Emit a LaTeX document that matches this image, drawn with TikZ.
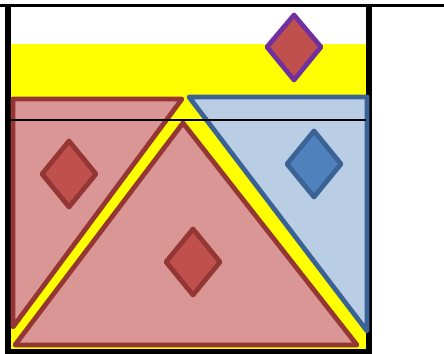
\documentclass[tikz,border=0pt]{standalone}
\usepackage{tikz}
\definecolor{cyellow}{HTML}{FFFF00}
\definecolor{credfill}{HTML}{D99694}
\definecolor{credline}{HTML}{943634}
\definecolor{cgemred}{HTML}{C0504D}
\definecolor{cbluefill}{HTML}{B9CDE5}
\definecolor{cblueline}{HTML}{3A6294}
\definecolor{cgemblue}{HTML}{4F81BD}
\definecolor{cpurple}{HTML}{7030A0}

\begin{document}
\begin{tikzpicture}[x=0.02cm, y=-0.02cm,
  wall/.style={line width=3.3pt},
  redpart/.style={draw=credline, fill=credfill, line width=2.7pt, line join=round},
  bluepart/.style={draw=cblueline, fill=cbluefill, line width=2.7pt, line join=round},
  redgem/.style={draw=credline, fill=cgemred, line width=2.7pt, line join=round},
  bluegem/.style={draw=cblueline, fill=cgemblue, line width=2.7pt, line join=round},
  topgem/.style={draw=cpurple, fill=cgemred, line width=2.7pt, line join=round}]
  \useasboundingbox (0,0) rectangle (444,354);
  % liquid
  \fill[cyellow] (11,44) rectangle (366,350);
  % container
  \draw[wall] (8,5) -- (8,352) -- (369,352) -- (369,5);
  % floating pieces
  \draw[redpart] (13,99) -- (182,99) -- (13,327) -- cycle;
  \draw[redpart] (183,123) -- (357,345) -- (15,345) -- cycle;
  \draw[bluepart] (189,97) -- (367,97) -- (367,331) -- cycle;
  % gems
  \foreach \cx/\cy in {69/174,193/262}
    \draw[redgem] (\cx-27,\cy) -- (\cx,\cy-33) -- (\cx+27,\cy) -- (\cx,\cy+33) -- cycle;
  \draw[bluegem] (287,164) -- (314,131) -- (341,164) -- (314,197) -- cycle;
  \draw[topgem] (267,47) -- (294,15) -- (321,47) -- (294,80) -- cycle;
  % level line
  \draw[line width=0.85pt] (10,120) -- (366,120);
  \draw[line width=1.6pt] (0,5.3) -- (444,5.3);
\end{tikzpicture}
\end{document}
